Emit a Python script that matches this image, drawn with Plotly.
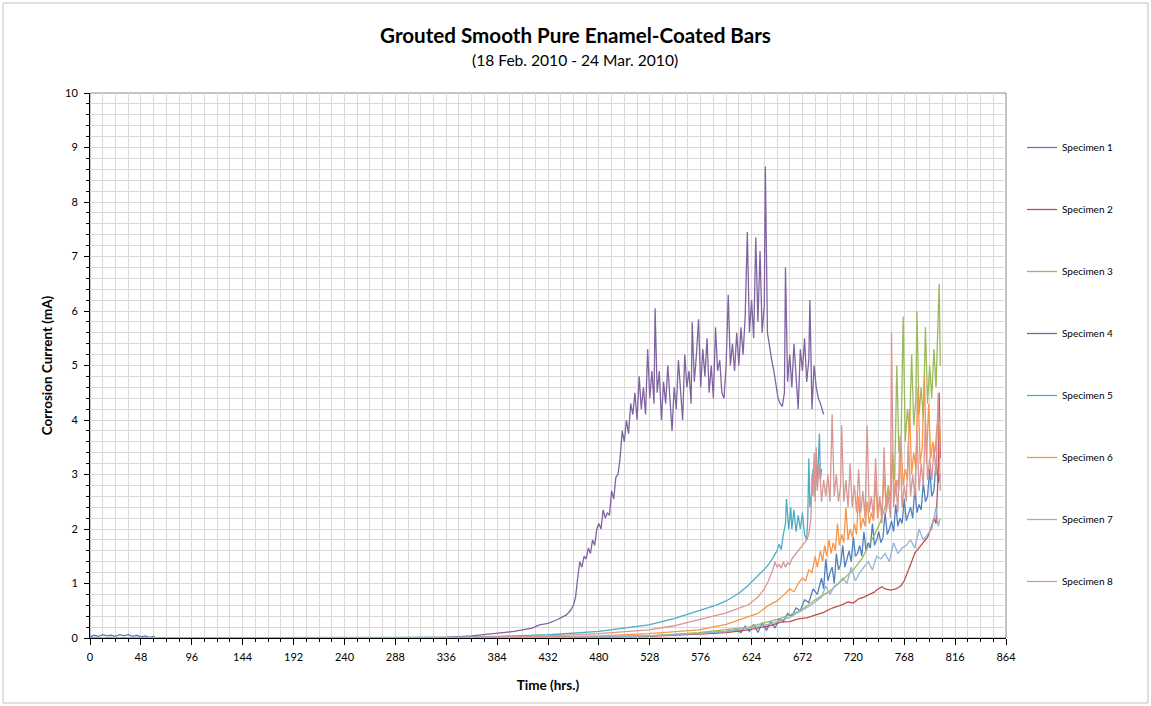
import plotly.graph_objects as go

# ---------------- data ----------------
s1_hours = [0, 4, 8, 12, 16, 20, 24, 28, 32, 36, 40, 44, 48, 52, 56, 60, 62, 100, 200, 336, 433, 480, 527, 574, 600,
            610, 614, 618, 622, 626, 630, 634, 638, 642, 646, 650, 654, 658, 662, 666, 670, 674, 678, 682, 686, 690,
            692, 694, 696, 698, 700, 702, 704, 706, 708, 710, 712, 714, 716, 718, 720, 722, 724, 726, 728, 730, 732,
            734, 736, 738, 740, 742, 744, 746, 748, 750, 752, 754, 756, 758, 760, 762, 764, 766, 768, 770, 772, 774,
            776, 778, 780, 782, 784, 786, 788, 790, 792, 794, 796, 798, 800, 802]
s1_ma = [0.02, 0.05, 0.03, 0.06, 0.04, 0.05, 0.03, 0.06, 0.04, 0.06, 0.03, 0.05, 0.02, 0.04, 0.01, 0.03, 0.0, 0.0, 0.0,
         0.0, 0.01, 0.02, 0.04, 0.08, 0.12,
         0.15, 0.1, 0.22, 0.12, 0.25, 0.1, 0.28, 0.14, 0.3, 0.18, 0.35, 0.3, 0.45, 0.4, 0.55, 0.5, 0.7, 0.65, 0.9, 0.8,
         1.1, 0.9, 1.45, 1.05, 1.2, 1.3, 1.0, 1.55, 1.25, 1.35,
         1.7, 1.3, 1.45, 1.6, 1.4, 1.85, 1.5, 1.55, 1.7, 1.5,
         1.95, 1.6, 1.75, 1.65, 2.1, 1.7, 1.8, 1.95, 1.75, 1.85,
         2.3, 1.9, 2.0, 2.15, 1.95, 2.45, 2.05, 2.2, 2.1, 2.55,
         2.15, 2.3, 2.4, 2.2, 2.75, 2.3, 2.45, 2.35, 2.85, 2.5,
         2.6, 3.1, 2.6, 2.7, 3.25, 2.85, 3.0]

s2_hours = [0, 100, 200, 336, 433, 480, 527, 574, 600, 621, 640, 652, 660, 668, 676, 684, 692, 700, 708, 715, 720, 725,
            730, 735, 740, 742, 747, 750, 755, 760, 765, 768, 771, 775, 778, 782, 786, 790, 793, 796, 798, 799, 800, 801,
            802]
s2_ma = [0.0, 0.0, 0.0, 0.0, 0.01, 0.02, 0.03, 0.07, 0.1, 0.15, 0.22, 0.29, 0.3, 0.35, 0.37, 0.42, 0.47, 0.55, 0.6,
         0.66, 0.64, 0.72, 0.75, 0.8, 0.84, 0.88, 0.94, 0.9, 0.88, 0.9, 0.96, 1.05, 1.19, 1.4, 1.56, 1.65, 1.75, 1.85,
         2.0, 2.2, 2.1, 2.5, 3.0, 4.5, 3.3]

s3_hours = [0, 100, 200, 384, 480, 527, 574, 600, 621, 650, 670, 684, 697, 709, 720, 728, 735, 740, 745, 750, 753, 755,
            757, 759, 761, 763, 765, 767, 769, 771, 773, 775, 777, 779, 780, 782, 784, 786, 788, 790, 792, 794, 796, 798,
            800, 801, 802]
s3_ma = [0.0, 0.0, 0.0, 0.0, 0.02, 0.04, 0.1, 0.15, 0.2, 0.35, 0.5, 0.7, 0.85, 1.05, 1.25, 1.45, 1.7, 1.9, 2.1, 2.4,
         2.8, 2.5, 3.4, 2.9, 5.0, 3.4, 3.6, 5.9, 3.6, 4.2, 3.8, 5.2, 3.9, 4.4, 6.0, 4.1, 4.6, 4.0, 5.7, 4.3, 5.0, 4.4,
         5.3, 4.6, 5.9, 6.5, 5.0]

s4_hours = [0, 100, 200, 300, 336, 360, 384, 400, 417, 424, 432, 440, 449, 453, 456, 458, 460, 462, 464, 466, 468, 470,
            472, 474, 476, 478, 480, 482, 484, 486, 488, 490, 492, 494, 496, 498, 500, 502, 504, 506, 508, 510, 512, 514,
            516, 518, 520, 522, 524, 526, 528, 530, 532, 533, 535, 537, 539, 541, 543, 545, 547, 549, 551, 553, 555, 557,
            559, 561, 563, 565, 567, 568, 570, 572, 574, 576, 578, 580, 582, 584, 586, 588, 590, 592, 594, 596, 598, 600,
            602, 604, 606, 608, 610, 612, 614, 616, 618, 620, 622, 624, 626, 628, 630, 632, 634, 636, 637, 639, 641, 643,
            645, 647, 649, 651, 653, 655, 656, 658, 660, 662, 664, 666, 668, 670, 672, 674, 676, 678, 679, 681, 683, 685,
            687, 689, 692]
s4_ma = [0.0, 0.0, 0.0, 0.0, 0.01, 0.04, 0.08, 0.12, 0.18, 0.24, 0.27, 0.33, 0.42, 0.5, 0.6, 0.75, 1.1, 1.4, 1.3, 1.5,
         1.45, 1.65, 1.55, 1.8, 1.7, 2.0, 2.1, 2.0, 2.35, 2.2, 2.3, 2.25, 2.7, 2.55, 2.95, 3.0, 3.3, 3.8, 3.6, 4.0,
         3.75, 4.3, 4.1, 4.5, 4.0, 4.8, 4.2, 4.6, 4.1, 5.3, 4.4, 4.9, 4.3, 6.05, 4.5, 4.9, 4.0, 4.7, 4.3, 5.0, 4.4, 3.8,
         4.6, 4.2, 5.1, 4.5, 4.0, 5.2, 4.6, 4.9, 4.3, 5.8, 4.7, 5.2, 5.85, 4.6, 5.3, 4.8, 5.5, 4.5, 5.0, 4.4, 5.7, 4.9,
         5.1, 4.5, 4.4, 5.0, 6.3, 5.0, 5.4, 4.9, 5.6, 5.0, 5.7, 5.2, 5.9, 7.45, 5.6, 6.2, 5.5, 7.35, 5.8, 7.1, 5.6, 6.1,
         8.65, 5.6, 5.3, 5.1, 4.9, 4.6, 4.4, 4.3, 4.25, 4.5, 6.8, 4.7, 5.2, 4.6, 5.4, 4.8, 4.2, 5.3, 4.9, 5.5, 4.7, 5.1,
         6.2, 4.2, 5.0, 4.6, 4.4, 4.3, 4.1]

s5_hours = [0, 100, 200, 300, 336, 384, 433, 480, 527, 550, 574, 590, 600, 612, 620, 628, 634, 638, 642, 645, 648, 650,
            652, 654, 656, 657, 659, 661, 662, 664, 666, 668, 670, 672, 674, 676, 677, 678, 679, 681, 682, 684, 685, 686,
            688, 689, 690]
s5_ma = [0.0, 0.0, 0.0, 0.0, 0.01, 0.03, 0.06, 0.12, 0.24, 0.35, 0.5, 0.6, 0.68, 0.82, 0.95, 1.1, 1.22, 1.3, 1.4, 1.5,
         1.6, 1.72, 1.62, 1.9, 2.1, 2.55, 2.0, 2.4, 2.0, 2.35, 1.95, 2.25, 2.0, 2.3, 1.9, 1.8, 2.2, 3.3, 2.4, 2.7, 3.1,
         2.6, 3.4, 2.8, 3.75, 2.9, 3.1]

s6_hours = [0, 100, 200, 336, 433, 480, 527, 574, 600, 621, 630, 640, 648, 655, 660, 664, 668, 672, 675, 678, 681, 684,
            686, 689, 691, 693, 695, 697, 699, 701, 703, 705, 707, 709, 711, 713, 715, 717, 719, 721, 723, 725, 727, 729,
            731, 733, 735, 737, 739, 741, 743, 745, 747, 749, 751, 753, 755, 757, 759, 761, 763, 765, 767, 769, 771, 773,
            775, 777, 779, 781, 783, 785, 787, 789, 791, 793, 795, 797, 799, 801, 802]
s6_ma = [0.0, 0.0, 0.0, 0.0, 0.02, 0.04, 0.08, 0.15, 0.25, 0.38, 0.45, 0.6, 0.68, 0.8, 0.9, 0.85, 1.0, 1.1, 1.05, 1.25,
         1.2, 1.5, 1.3, 1.6, 1.4, 1.7, 1.5, 1.8, 1.55, 1.75, 1.6, 2.1, 1.7, 1.9, 1.75, 2.4, 1.8, 2.0, 1.85, 2.1, 1.9,
         2.6, 2.0, 2.2, 2.05, 2.5, 2.1, 2.3, 2.15, 2.9, 2.2, 2.5, 2.3, 3.0, 2.4, 2.7, 2.5, 3.3, 2.6, 2.9, 2.7, 3.6, 2.8,
         3.1, 2.9, 4.2, 3.0, 3.4, 3.1, 4.6, 3.2, 3.5, 4.8, 3.2, 4.3, 3.3, 3.6, 3.4, 3.9, 4.0, 3.6]

s7_hours = [0, 100, 200, 336, 480, 527, 574, 600, 621, 640, 660, 680, 690, 694, 698, 702, 706, 710, 714, 718, 722, 726,
            730, 734, 738, 742, 746, 750, 754, 758, 762, 766, 770, 774, 778, 782, 786, 790, 794, 798, 800, 802]
s7_ma = [0.0, 0.0, 0.0, 0.0, 0.02, 0.04, 0.08, 0.12, 0.18, 0.25, 0.38, 0.6,
         0.75, 0.95, 0.8, 0.95, 1.0, 1.1, 1.0, 1.3, 1.05, 1.2, 1.3, 1.4, 1.25, 1.5, 1.45, 1.55, 1.4, 1.75, 1.55, 1.65,
         1.7, 1.8, 1.65, 2.0, 1.8, 1.9, 2.0, 2.4, 2.05, 2.2]

s8_hours = [0, 100, 200, 300, 384, 433, 480, 527, 550, 574, 600, 621, 630, 636, 640, 644, 646, 648, 650, 652, 654, 656,
            658, 660, 662, 664, 666, 668, 670, 672, 674, 676, 678, 680, 681, 682, 683, 684, 685, 686, 688, 690, 692, 694,
            696, 698, 700, 702, 704, 706, 708, 709, 711, 713, 715, 717, 719, 721, 723, 725, 727, 729, 731, 733, 735, 737,
            739, 741, 743, 745, 747, 749, 751, 753, 755, 756, 758, 760, 762, 764, 766, 768, 770, 772, 774, 776, 778, 780,
            782, 784, 786, 788, 790, 792, 794, 796, 798, 800, 802]
s8_ma = [0.0, 0.0, 0.0, 0.0, 0.02, 0.04, 0.08, 0.15, 0.22, 0.33, 0.46, 0.61, 0.75, 0.9, 1.05, 1.25, 1.4, 1.3, 1.35,
         1.28, 1.4, 1.3, 1.38, 1.35, 1.45, 1.5, 1.55, 1.6, 1.65, 1.7, 1.75, 1.8, 1.9, 2.2, 3.0, 2.6, 3.4, 2.5, 3.5, 2.7,
         3.2, 2.5, 2.9, 2.6, 3.0, 2.5, 4.1, 2.6, 3.0, 2.5, 2.8, 3.9, 2.5, 2.9, 2.4, 3.2, 2.4, 2.8, 2.3, 3.1, 2.3, 2.7,
         2.2, 3.9, 2.3, 2.6, 2.2, 3.3, 2.3, 2.6, 2.1, 3.5, 2.3, 2.6, 2.2, 5.6, 2.4, 2.9, 2.3, 3.7, 2.4, 2.8, 2.5, 3.6,
         2.6, 3.0, 2.6, 3.8, 2.7, 3.2, 2.8, 4.0, 2.9, 3.3, 2.9, 3.5, 3.0, 4.5, 2.7]

series_names = ["Specimen 1", "Specimen 2", "Specimen 3", "Specimen 4",
                "Specimen 5", "Specimen 6", "Specimen 7", "Specimen 8"]
series_hours = [s1_hours, s2_hours, s3_hours, s4_hours, s5_hours, s6_hours, s7_hours, s8_hours]
series_ma = [s1_ma, s2_ma, s3_ma, s4_ma, s5_ma, s6_ma, s7_ma, s8_ma]
series_colors = ["#4F81BD", "#C0504D", "#9BBB59", "#8064A2",
                 "#4BACC6", "#F79646", "#95B3D7", "#D99694"]

# ---------------- figure ----------------
FONT = "Lato, 'Liberation Sans', sans-serif"
fig = go.Figure()
for i, (name, xs, ys, col) in enumerate(zip(series_names, series_hours, series_ma, series_colors)):
    fig.add_trace(go.Scatter(x=xs, y=ys, mode="lines", name=name,
                             line=dict(color=col, width=1.3),
                             legendgroup=f"g{i}"))

fig.update_layout(
    width=1151, height=706,
    paper_bgcolor="white", plot_bgcolor="white",
    margin=dict(l=90, r=145, t=93, b=68),
    font=dict(family=FONT, color="#000000", size=11),
    title=dict(text="<b>Grouted Smooth Pure Enamel-Coated Bars</b>",
               x=0.5, xref="container", xanchor="center",
               y=1 - 36 / 706, yref="container", yanchor="middle",
               font=dict(family=FONT, size=20.6, color="#000000")),
    showlegend=True,
    legend=dict(x=(1022 - 90) / 916, xanchor="left", y=(638 - 133) / 545, yanchor="top",
                font=dict(family=FONT, size=10, color="#000000"),
                tracegroupgap=43, bgcolor="rgba(0,0,0,0)", itemwidth=30),
    annotations=[dict(text="(18 Feb. 2010 - 24 Mar. 2010)", xref="paper", yref="paper",
                      x=(575 - 90) / 916, y=(638 - 60) / 545, xanchor="center", yanchor="middle",
                      showarrow=False, font=dict(family=FONT, size=15.6, color="#000000"))],
    shapes=[
        dict(type="rect", xref="paper", yref="paper", x0=0, x1=1, y0=0, y1=1,
             line=dict(color="#868686", width=1), layer="below"),
        dict(type="rect", xref="paper", yref="paper",
             x0=(3 - 90) / 916, x1=(1148 - 90) / 916, y0=(638 - 703) / 545, y1=(638 - 3) / 545,
             line=dict(color="#BFBFBF", width=1), layer="below"),
    ],
)

fig.update_xaxes(
    range=[0, 864], dtick=48, tick0=0, automargin=False,
    showgrid=True, gridcolor="#D9D9D9", gridwidth=1,
    minor=dict(dtick=12, showgrid=True, gridcolor="#D9D9D9", ticks="outside", ticklen=3,
               tickcolor="#000000"),
    showline=True, linecolor="#000000", linewidth=1,
    ticks="outside", ticklen=6, tickcolor="#000000", ticklabelstandoff=3,
    zeroline=False,
    tickfont=dict(family=FONT, size=11, color="#000000"),
    title=dict(text="<b>Time (hrs.)</b>", font=dict(family=FONT, size=13.5, color="#000000"), standoff=18),
)
fig.update_yaxes(
    range=[0, 10], dtick=1, tick0=0, automargin=False,
    showgrid=True, gridcolor="#D9D9D9", gridwidth=1,
    minor=dict(dtick=0.2, showgrid=True, gridcolor="#D9D9D9", ticks="outside", ticklen=3,
               tickcolor="#000000"),
    showline=True, linecolor="#000000", linewidth=1,
    ticks="outside", ticklen=5, tickcolor="#000000", ticklabelstandoff=4,
    zeroline=False,
    tickfont=dict(family=FONT, size=11, color="#000000"),
    title=dict(text="<b>Corrosion Current (mA)</b>", font=dict(family=FONT, size=13.5, color="#000000"),
               standoff=9),
)

fig.write_html("out.html", config={"displayModeBar": False},
               post_script="document.body.style.margin='0';")
